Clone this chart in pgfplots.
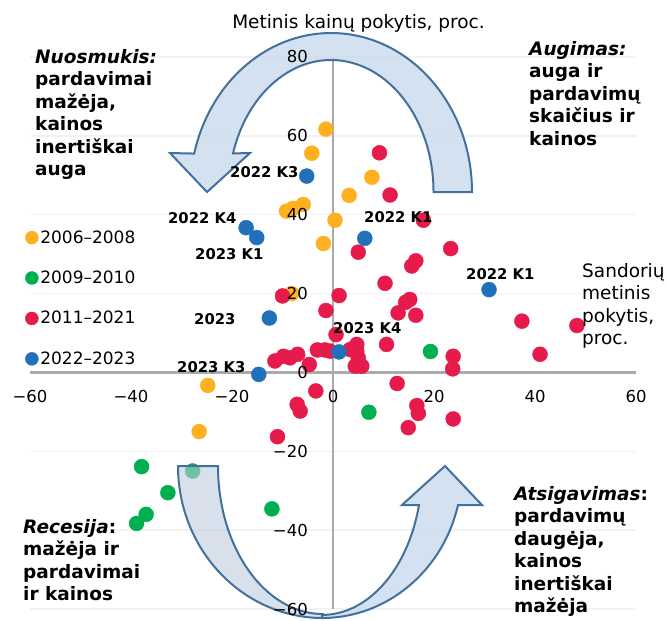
\documentclass[border=0pt]{standalone}
\usepackage{pgfplots}
\pgfplotsset{compat=1.18}
\usepackage{fontspec}
\setmainfont{DejaVu Sans}
\definecolor{corange}{RGB}{255,176,32}
\definecolor{cgreen}{RGB}{0,176,80}
\definecolor{cred}{RGB}{230,27,75}
\definecolor{cblue}{RGB}{33,113,186}
\definecolor{arrfill}{RGB}{200,218,238}
\definecolor{arrline}{RGB}{65,113,156}
\definecolor{axgray}{RGB}{170,170,170}
\definecolor{gridgray}{RGB}{242,242,242}
\newcommand{\px}[2]{(axis cs:{(#1-333)/5.05},{(372.4-#2)/3.943})}
\newcommand{\blk}[1]{\fontsize{18.5}{22.5}\selectfont\bfseries\begin{tabular}[t]{@{}l@{}}#1\end{tabular}}
\newcommand{\rlk}[1]{\fontsize{18.5}{22.5}\selectfont\begin{tabular}[t]{@{}l@{}}#1\end{tabular}}
\begin{document}
\begin{tikzpicture}
\begin{axis}[
  name=ax,
  set layers,
  scale only axis, width=606pt, height=552pt,
  xmin=-60, xmax=60, ymin=-60, ymax=80,
  axis lines=middle,
  axis line style={axgray, line width=2.5pt, -},
  xtick={-60,-40,-20,0,20,40,60},
  ytick={-60,-40,-20,0,20,40,60,80},
  xticklabels={}, yticklabels={},
  major tick length=0pt,
  ymajorgrids, grid style={gridgray, line width=1.5pt},
  clip=false,
  legend style={at={(axis description cs:-0.008,0.6896)}, anchor=north west, draw=none, fill=none,
    inner sep=0pt, font=\fontsize{17}{20}\selectfont, row sep=22.3pt,
    /tikz/every even column/.append style={column sep=4pt}},
  legend cell align=left,
  legend image code/.code={\draw[#1, mark size=6.5pt] plot coordinates {(0pt,0pt)};},
]
\addplot[only marks, mark=*, mark size=7.5pt, color=corange, mark options={draw=none}] coordinates {
(-1.4,61.7) (-4.2,55.6) (7.7,49.5) (3.2,44.9) (-9.2,40.9) (-7.9,41.6) (-5.9,42.6) (0.4,38.6) (-1.9,32.7) (-8.2,20) (-24.8,-3.3) (-26.5,-15)
};
\addlegendentry{2006–2008}
\addplot[only marks, mark=*, mark size=7.5pt, color=cgreen, mark options={draw=none}] coordinates {
(19.3,5.3) (7.1,-10.1) (-37.9,-23.9) (-27.8,-25) (-32.7,-30.5) (-37,-36) (-38.9,-38.3) (-12.1,-34.6)
};
\addlegendentry{2009–2010}
\addplot[only marks, mark=*, mark size=7.5pt, color=cred, mark options={draw=none}] coordinates {
(9.2,55.7) (11.3,45.0) (17.9,38.6) (23.3,31.4) (5.0,30.5) (16.4,28.3) (15.6,27.0) (10.3,22.6) (-10.0,19.4) (1.2,19.5) (15.2,18.5) (14.4,17.8) (12.9,15.1) (16.4,14.5) (-1.4,15.7) (0.6,9.6) (10.6,7.1) (4.7,7.1) (-11.5,2.9) (-9.8,4.1) (-8.5,3.7) (-7.0,4.6) (-4.7,2.0) (-3.1,5.7) (-1.6,5.7) (-0.6,5.4) (3.4,5.8) (4.7,5.4) (5.0,3.7) (4.4,1.6) (5.7,1.6) (23.8,4.1) (23.7,0.9) (12.7,-2.8) (-3.4,-4.7) (-7.1,-8.1) (-6.5,-9.8) (16.6,-8.4) (16.9,-10.4) (23.8,-11.8) (14.9,-14) (-11.0,-16.3) (37.4,13) (48.3,11.9) (41.0,4.6)
};
\addlegendentry{2011–2021}
\addplot[only marks, mark=*, mark size=7.5pt, color=cblue, mark options={draw=none}] coordinates {
(-5.2,49.8) (-17.2,36.7) (-15.1,34.2) (6.3,34) (30.9,21) (-12.6,13.8) (1.2,5.2) (-14.7,-0.5)
};
\addlegendentry{2022–2023}

\begin{pgfonlayer}{axis foreground}
% decorative arrows
\draw[arrline, line width=2pt, fill=arrfill, fill opacity=0.8]
  \px{472}{192} arc[start angle=0, end angle=166, x radius=141pt, y radius=159pt]
  -- \px{170}{153} -- \px{207}{192} -- \px{250}{153} -- \px{233}{153.4}
  arc[start angle=163, end angle=0, x radius=102.5pt, y radius=132pt] -- cycle;
\draw[arrline, line width=2pt, fill=arrfill!85!gray, fill opacity=0.6]
  \px{178}{466} arc[start angle=180, end angle=270, x radius=145pt, y radius=152pt]
  -- \px{323}{614} arc[start angle=270, end angle=180, x radius=105pt, y radius=148pt] -- cycle;
\draw[arrline, line width=2pt, fill=arrfill, fill opacity=0.8]
  \px{322}{618} arc[start angle=-90, end angle=-13.7, x radius=140pt, y radius=148pt]
  -- \px{482}{505} -- \px{445}{466} -- \px{402}{505} -- \px{419}{505}
  arc[start angle=-14, end angle=-90, x radius=100pt, y radius=145pt] -- cycle;

% tick labels
\begin{scope}[every node/.style={inner sep=0pt, font=\fontsize{16.5}{20}\selectfont}]
\node[anchor=north, yshift=-18pt] at (axis cs:-60,0) {−60};
\node[anchor=north, yshift=-18pt] at (axis cs:-40,0) {−40};
\node[anchor=north, yshift=-18pt] at (axis cs:-20,0) {−20};
\node[anchor=north, yshift=-18pt] at (axis cs:0,0) {0};
\node[anchor=north, yshift=-18pt] at (axis cs:20,0) {20};
\node[anchor=north, yshift=-18pt] at (axis cs:40,0) {40};
\node[anchor=north, yshift=-18pt] at (axis cs:60,0) {60};
\node[anchor=east, xshift=-25pt] at (axis cs:0,-60) {−60};
\node[anchor=east, xshift=-25pt] at (axis cs:0,-40) {−40};
\node[anchor=east, xshift=-25pt] at (axis cs:0,-20) {−20};
\node[anchor=east, xshift=-25pt] at (axis cs:0,0) {0};
\node[anchor=east, xshift=-25pt] at (axis cs:0,20) {20};
\node[anchor=east, xshift=-25pt] at (axis cs:0,40) {40};
\node[anchor=east, xshift=-25pt] at (axis cs:0,60) {60};
\node[anchor=east, xshift=-25pt] at (axis cs:0,80) {80};
\end{scope}

% texts
\node[anchor=base, inner sep=0pt, font=\fontsize{18.5}{22}\selectfont] at \px{358.5}{28} {Metinis kainų pokytis, proc.};
\node[anchor=base west, inner sep=0pt] at \px{35}{63} {\blk{\textit{Nuosmukis:}\\pardavimai\\mažėja,\\kainos\\inertiškai\\auga}};
\node[anchor=base west, inner sep=0pt] at \px{529}{55} {\blk{\textit{Augimas:}\\auga ir\\pardavimų\\skaičius ir\\kainos}};
\node[anchor=base west, inner sep=0pt] at \px{23}{533} {\blk{\textit{Recesija}:\\mažėja ir\\pardavimai\\ir kainos}};
\node[anchor=base west, inner sep=0pt] at \px{514}{500} {\blk{\textit{Atsigavimas}:\\pardavimų\\daugėja,\\kainos\\inertiškai\\mažėja}};
\node[anchor=base west, inner sep=0pt] at \px{582}{277} {\rlk{Sandorių\\metinis\\pokytis,\\proc.}};

\begin{scope}[every node/.style={anchor=base west, inner sep=0pt, font=\bfseries\fontsize{14.8}{17}\selectfont}]
\node at \px{230}{177} {2022 K3};
\node at \px{168}{223} {2022 K4};
\node at \px{195}{259} {2023 K1};
\node at \px{194}{324} {2023};
\node at \px{177}{372} {2023 K3};
\node at \px{364}{222} {2022 K1};
\node at \px{466}{279} {2022 K1};
\node at \px{333}{333} {2023 K4};
\end{scope}
\end{pgfonlayer}
\end{axis}
\pgfresetboundingbox
\path[use as bounding box] ([shift={(-30pt,57pt)}]ax.north west) rectangle ([shift={(32pt,-12pt)}]ax.south east);
\end{tikzpicture}
\end{document}
